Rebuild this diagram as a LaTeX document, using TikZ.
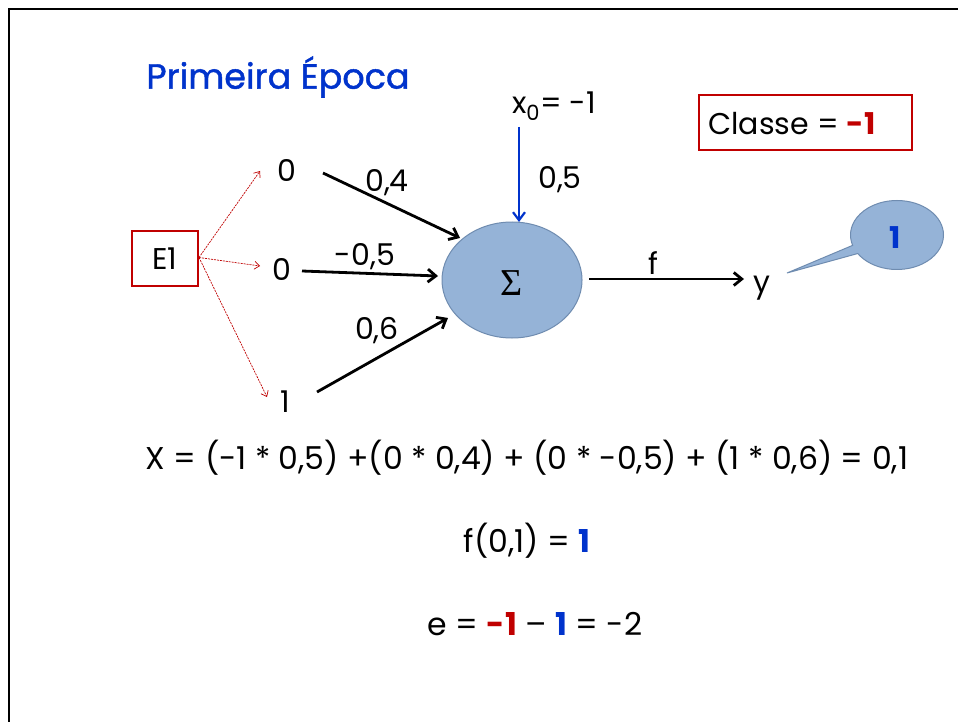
\documentclass[tikz,border=0pt]{standalone}
\usepackage{fontspec}
\setmainfont{Poppins}
\newfontfamily\sigfont{Liberation Serif}
\newfontfamily\titlefont[FakeBold=1.2]{Poppins}
\usetikzlibrary{arrows.meta,shapes.geometric,shapes.callouts}
\definecolor{tblue}{HTML}{0033CC}
\definecolor{tred}{HTML}{C00000}
\definecolor{efill}{HTML}{95B3D7}
\definecolor{eline}{HTML}{6F8CB0}
\begin{document}
\begin{tikzpicture}[x=1pt,y=-1pt,
  every node/.style={inner sep=0pt, font=\fontsize{30}{34}\selectfont},
  redbox/.style={draw=tred, line width=2pt, inner sep=0pt},
  redarr/.style={draw=tred, line width=0.7pt, dash pattern=on 2pt off 1pt, -{Straight Barb[length=5pt,width=8pt]}},
  wt/.style={draw=black, line width=2.8pt, -{Straight Barb[length=8pt,width=13pt]}},
  biasarr/.style={draw=tblue, line width=2.2pt, -{Straight Barb[length=8pt,width=12pt]}},
  eqn/.style={font=\fontsize{31.5}{36}\selectfont}]
\useasboundingbox (0,0) rectangle (958,722);
\fill[white] (0,0) rectangle (958,722);
\draw[line width=2pt] (9,722) -- (9,9) -- (958,9);

\node[text=tblue, font=\titlefont\fontsize{35}{40}\selectfont] (title) at (278,77) {Primeira Época};

\node[redbox, minimum width=66, minimum height=55] (e1) at (165,258.5) {E1};
\node (i1) at (287,170) {0};
\node (i2) at (282,269) {0};
\node (i3) at (285,402) {1};

\draw[redarr] ([shift={(0,-1)}]e1.east) -- ([shift={(-27,1)}]i1.center);
\draw[redarr] ([shift={(0,-1)}]e1.east) -- ([shift={(-22,-3)}]i2.center);
\draw[redarr] ([shift={(0,-1)}]e1.east) -- ([shift={(-18,-5)}]i3.center);

\node[ellipse, draw=eline, fill=efill, line width=1pt, minimum width=140, minimum height=116] (sum) at (512,280) {};
\node[font=\sigfont\fontsize{38}{42}\selectfont] (sig) at (512,283) {Σ};

\draw[wt] ([shift={(36,3)}]i1.center) -- ([shift={(-52,-42)}]sum.center);
\draw[wt] ([shift={(20,2)}]i2.center) -- ([shift={(-74,-4)}]sum.center);
\draw[wt] ([shift={(32,-10)}]i3.center) -- ([shift={(-64,38)}]sum.center);

\node (w1) at (387,183) {0,4};
\node (w2) at (365,257) {-0,5};
\node (w3) at (377,331) {0,6};

\node (x0) at (554,106) {x\textsubscript{0}= -1};
\draw[biasarr] ([shift={(-35,21)}]x0.center) -- ([shift={(7,-58)}]sum.center);
\node (w0) at (560,180) {0,5};

\node (y) at (762,288) {y};
\draw[wt] ([shift={(77,-1)}]sum.center) -- ([shift={(-18,-9)}]y.center);
\node (f) at (653,263) {f};

\node[ellipse callout, draw=eline, fill=efill, line width=1pt, minimum width=93, minimum height=69,
  callout absolute pointer={(787,273)}] (call) at (897,235) {};
\node[text=tblue, font=\fontsize{30}{34}\selectfont\bfseries] (one) at (895,238) {1};

\node[redbox, minimum width=213, minimum height=55] (cls) at (805,122.5) {};
\node (clst) at (792,124) {Classe = \textcolor{tred}{\bfseries -1}};

\node[eqn] (eq1) at (527,458) {X = (-1 * 0,5) +(0 * 0,4) + (0 * -0,5) + (1 * 0,6) = 0,1};
\node[eqn] (eq2) at (527,541) {f(0,1) = \textcolor{tblue}{\bfseries 1}};
\node[eqn] (eq3) at (535,624) {e = \textcolor{tred}{\bfseries -1} -- \textcolor{tblue}{\bfseries 1} = -2};
\end{tikzpicture}
\end{document}
